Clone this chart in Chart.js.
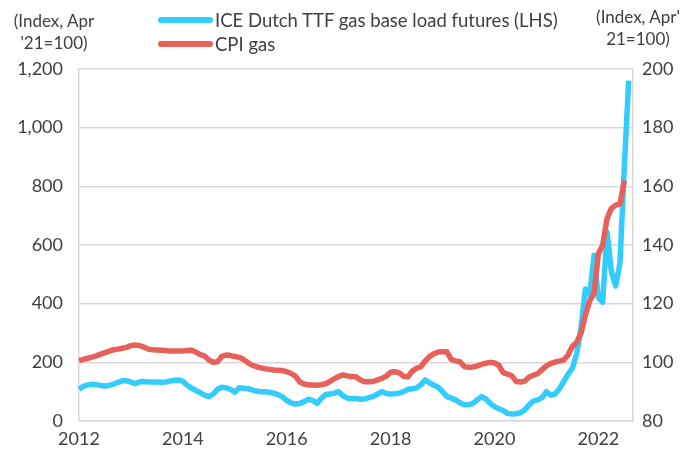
<!DOCTYPE html>
<html>
<head>
<meta charset="utf-8">
<script src="https://cdn.jsdelivr.net/npm/chart.js@4.4.0/dist/chart.umd.min.js"></script>
<style>
  body { margin: 0; background: #fff; font-family: Lato, sans-serif; color: #404040; }
  #wrap { position: relative; width: 684px; height: 458px; overflow: hidden; }
  .t { position: absolute; font-size: 17px; line-height: 22px; white-space: nowrap; }
  .leg { position: absolute; font-size: 18.5px; line-height: 24px; white-space: nowrap; }
  .key { position: absolute; width: 55px; height: 6px; border-radius: 3px; }
</style>
</head>
<body>
<div id="wrap">
  <canvas id="chart" width="684" height="458"></canvas>
  <div class="t" style="left:4px;top:10px;width:100px;text-align:center">(Index, Apr<br>'21=100)</div>
  <div class="t" style="left:586px;top:6px;width:104px;text-align:center">(Index, Apr'<br>21=100)</div>
  <div class="key" style="left:158px;top:17px;background:#33ccff"></div>
  <div class="leg" style="left:215px;top:8px">ICE Dutch TTF gas base load futures (LHS)</div>
  <div class="key" style="left:158px;top:41px;background:#e8605a"></div>
  <div class="leg" style="left:215px;top:32px">CPI gas</div>
</div>
<script>
// monthly, Jan 2012 onwards
const startYear = 2012;
const monthCount = 129; // Jan 2012 .. Sep 2022 (axis end)

const ttfFutures = [
  108, 118, 123, 125, 124, 121, 119, 121, 126, 132, 137, 137,
  133, 127, 134, 135, 133, 133, 133, 132, 133, 136, 139, 140,
  135, 122, 112, 104, 97, 88, 83, 92, 108, 115, 113, 108,
  98, 113, 112, 110, 106, 102, 100, 100, 98, 95, 90, 82,
  70, 62, 58, 60, 66, 74, 70, 60, 78, 90, 92, 95,
  100, 86, 78, 77, 77, 74, 75, 80, 84, 92, 100, 94,
  92, 93, 95, 100, 108, 110, 113, 124, 140, 130, 122, 115,
  100, 83, 78, 72, 62, 55, 55, 60, 72, 83, 75, 60,
  49, 42, 36, 26, 24, 25, 28, 38, 55, 68, 72, 80,
  100, 88, 92, 110, 135, 160, 180, 230, 320, 450, 430, 565,
  420, 405, 645, 510, 460, 540, 870, 1160
];

const cpiGas = [
  100.6, 101.0, 101.4, 101.8, 102.2, 102.8, 103.3, 103.8, 104.3, 104.5, 104.8, 105.1,
  105.7, 105.9, 105.7, 105.2, 104.5, 104.3, 104.2, 104.1, 104.0, 103.9, 103.9, 103.9,
  103.9, 104.0, 104.1, 103.5, 102.6, 102.2, 100.8, 100.0, 100.2, 102.0, 102.5, 102.3,
  102.0, 101.7, 101.0, 99.9, 99.0, 98.5, 98.1, 97.8, 97.6, 97.4, 97.3, 97.2,
  96.8, 96.2, 95.3, 93.3, 92.6, 92.3, 92.3, 92.2, 92.4, 92.7, 93.5, 94.4,
  95.2, 95.7, 95.4, 95.1, 95.1, 94.0, 93.4, 93.4, 93.5, 94.0, 94.6, 95.3,
  96.6, 96.8, 96.4, 95.2, 95.1, 97.0, 98.0, 98.5, 100.5, 102.0, 102.9, 103.5,
  103.6, 103.6, 101.0, 100.5, 100.2, 98.6, 98.3, 98.4, 98.8, 99.3, 99.7, 100.0,
  99.8, 99.0, 96.5, 96.0, 95.4, 93.5, 93.3, 93.6, 95.0, 95.6, 96.2, 97.5,
  98.8, 99.6, 100.1, 100.4, 100.8, 102.5, 105.5, 106.8, 110.0, 116.0, 121.0, 123.5,
  137.0, 140.0, 149.0, 152.5, 153.6, 154.0, 162.0
];

const yearLabels = ['2012', '2014', '2016', '2018', '2020', '2022'];

const months = [];
for (let i = 0; i < monthCount; i++) {
  months.push((startYear + Math.floor(i / 12)) + '-' + String(i % 12 + 1).padStart(2, '0'));
}

const gridColor = '#d9d9d9';
const tickFont = { family: 'Lato', size: 18 };

new Chart(document.getElementById('chart'), {
  type: 'line',
  data: {
    labels: months,
    datasets: [
      {
        label: 'CPI gas',
        data: cpiGas,
        yAxisID: 'y1',
        borderColor: '#e8605a',
        borderWidth: 5.5,
        pointRadius: 0,
        tension: 0,
        borderJoinStyle: 'round'
      },
      {
        label: 'ICE Dutch TTF gas base load futures (LHS)',
        data: ttfFutures,
        yAxisID: 'y',
        borderColor: '#33ccff',
        borderWidth: 5.5,
        pointRadius: 0,
        tension: 0,
        borderJoinStyle: 'round',
        order: 1
      }
    ]
  },
  options: {
    responsive: false,
    animation: false,
    layout: { padding: { top: 69, left: 0, right: 0, bottom: 0 } },
    plugins: { legend: { display: false }, tooltip: { enabled: false } },
    scales: {
      x: {
        offset: false,
        grid: { display: false, drawTicks: false },
        border: { color: gridColor, width: 1.5 },
        ticks: {
          autoSkip: false,
          maxRotation: 0,
          padding: 7,
          color: '#404040',
          font: tickFont,
          callback: function (v, i) {
            const lab = months[i];
            const y = lab.slice(0, 4);
            return lab.endsWith('-01') && yearLabels.includes(y) ? y : '';
          }
        },
        afterFit: function (s) { s.height = 37; }
      },
      y: {
        position: 'left',
        min: 0, max: 1200,
        grid: { color: gridColor, lineWidth: 1.5, drawTicks: false },
        border: { color: gridColor, width: 1.5 },
        ticks: {
          stepSize: 200,
          padding: 16,
          color: '#404040',
          font: tickFont,
          callback: v => v.toLocaleString('en-US')
        },
        afterFit: function (s) { s.width = 79; }
      },
      y1: {
        position: 'right',
        min: 80, max: 200,
        grid: { display: false, drawTicks: false },
        border: { color: gridColor, width: 1.5 },
        ticks: { stepSize: 20, padding: 9, color: '#404040', font: tickFont },
        afterFit: function (s) { s.width = 51; }
      }
    }
  }
});
</script>
</body>
</html>
